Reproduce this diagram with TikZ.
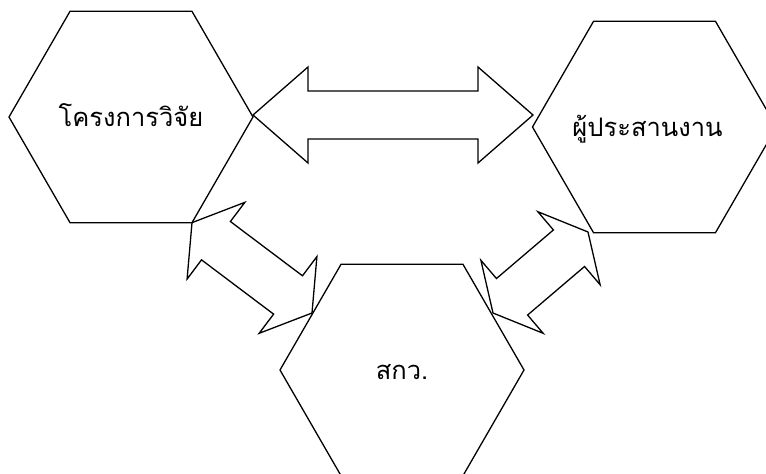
\documentclass[tikz,border=0pt]{standalone}
\usepackage{fontspec}
\newfontfamily\thaifont[Script=Thai]{Loma}
\usetikzlibrary{shapes,calc}
\tikzstyle{hexa} = [draw, regular polygon, regular polygon sides=6, minimum size=244pt, inner sep=0pt, outer sep=0pt, text height=19pt, text depth=0pt, line width=1.3pt, font=\thaifont\fontsize{25.5}{30}\selectfont]
\tikzstyle{blockline} = [draw, line width=1.3pt, line join=miter]
% block double arrow: #1 name, #2 and #3 tips, #4 head length
\newcommand{\blockarrow}[4]{%
  \coordinate (#1s) at ($(#2)!#4!(#3)$);
  \coordinate (#1e) at ($(#3)!#4!(#2)$);
  \draw [blockline] (#2) -- ($(#1s)!48pt!90:(#3)$) -- ($(#1s)!24pt!90:(#3)$)
    -- ($(#1e)!24pt!-90:(#2)$) -- ($(#1e)!48pt!-90:(#2)$) -- (#3)
    -- ($(#1e)!48pt!90:(#2)$) -- ($(#1e)!24pt!90:(#2)$)
    -- ($(#1s)!24pt!-90:(#3)$) -- ($(#1s)!48pt!-90:(#3)$) -- cycle;}
\begin{document}
\begin{tikzpicture}[x=1pt, y=-1pt]
 \useasboundingbox (0,0) rectangle (766,474);
 % nodes
    \node [hexa, name=hexA] at (131,117) {\makebox[0pt]{โครงการวิจัย}};
    \node [hexa, name=hexB] at (654.5,127) {\makebox[0pt]{ผู้ประสานงาน\hspace*{14pt}}};
    \node [hexa, name=hexC] at (402,370) {\makebox[0pt]{สกว.}};
    \coordinate (tipAB) at (253,115);
    \coordinate (tipBA) at (533,115);
    \coordinate (tipCA) at (312,313);
    \coordinate (tipBC) at (588,232);
    \coordinate (tipCB) at (493,313);
    % edges
    \blockarrow{arrAB}{tipAB}{tipBA}{55pt}
    \blockarrow{arrAC}{hexA.300}{tipCA}{30pt}
    \blockarrow{arrBC}{tipBC}{tipCB}{25pt}

\end{tikzpicture}
\end{document}
